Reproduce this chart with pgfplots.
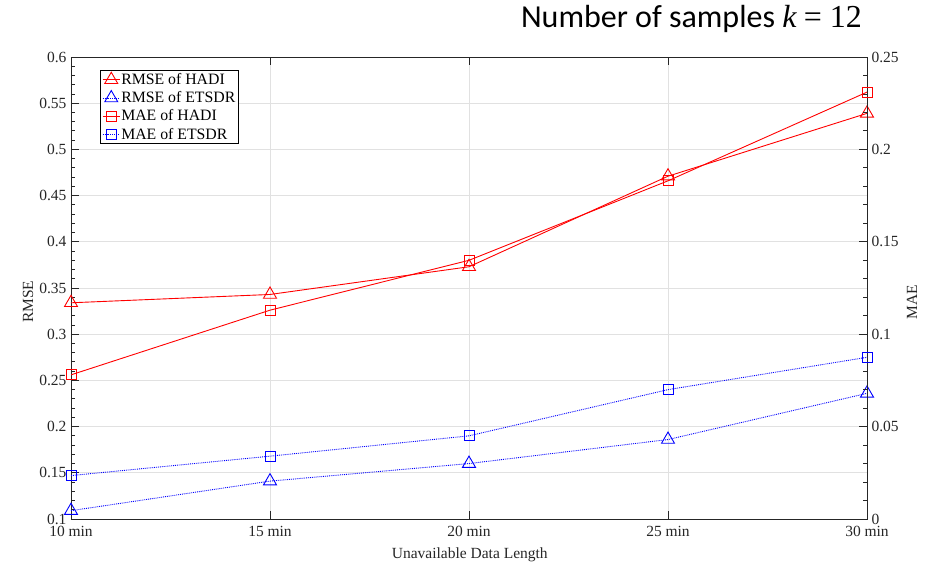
\documentclass[border=0pt]{standalone}
\usepackage{fontspec}
\setmainfont{Liberation Serif}
\newfontfamily\titlefont{Carlito}
\newfontfamily\titlemath{Liberation Serif}
\usepackage{pgfplots}
\pgfplotsset{compat=1.18}

\definecolor{axgray}{RGB}{38,38,38}
\definecolor{gridgray}{RGB}{225,225,225}
\definecolor{hadired}{RGB}{255,0,0}
\definecolor{etsdrblue}{RGB}{0,0,255}

\pgfplotsset{
  common/.style={
    scale only axis,
    width=796pt, height=462pt,
    xmin=10, xmax=30,
    xtick={10,15,20,25,30},
    xticklabels={10 min,15 min,20 min,25 min,30 min},
    /pgf/number format/assume math mode=true,
    tick label style={font=\fontsize{15.5}{18}\selectfont, text=axgray},
    label style={font=\fontsize{15.5}{18}\selectfont, text=axgray},
    axis line style={axgray, line width=0.9pt},
    major tick length=8pt, minor tick length=4pt,
    every tick/.style={axgray, line width=0.9pt},
    tick align=inside,
    minor y tick num=4,
  },
  hadi/.style={color=hadired, line width=0.9pt},
  etsdr/.style={color=etsdrblue, densely dotted, line width=0.9pt},
}

\begin{document}
\begin{tikzpicture}
% left axis: RMSE
\begin{axis}[
  common,
  ymin=0.1, ymax=0.6,
  ytick={0.1,0.15,0.2,0.25,0.3,0.35,0.4,0.45,0.5,0.55,0.6},
  yticklabels={0.1,0.15,0.2,0.25,0.3,0.35,0.4,0.45,0.5,0.55,0.6},
  xtick pos=both, ytick pos=left,
  grid=major,
  major grid style={gridgray, line width=0.8pt},
  xticklabel style={yshift=-4pt},
  yticklabel style={xshift=-1pt},
  ylabel={RMSE},
  ylabel style={at={(axis description cs:-0.054,0.47)}, anchor=center},
  xlabel={Unavailable Data Length},
  xlabel style={at={(axis description cs:0.501,-0.077)}, anchor=center},
  legend style={at={(0.0364,0.972)}, anchor=north west,
    font=\fontsize{15.8}{18}\selectfont, draw=black, line width=0.6pt,
    inner sep=2pt, row sep=3.5pt,
    nodes={inner sep=1pt}},
  legend cell align=left,
  legend image post style={line width=0.9pt},
]
\addplot[hadi, mark=triangle, mark size=7.5pt,
  mark options={solid, draw=hadired, line width=0.9pt}]
  coordinates {(10,0.334) (15,0.343) (20,0.373) (25,0.471) (30,0.539)};
\addlegendentry{RMSE of HADI}
\addplot[etsdr, mark=triangle, mark size=7.5pt,
  mark options={solid, draw=etsdrblue, line width=0.9pt}]
  coordinates {(10,0.109) (15,0.141) (20,0.160) (25,0.186) (30,0.236)};
\addlegendentry{RMSE of ETSDR}
\addlegendimage{hadi, mark=square, mark size=5pt,
  mark options={solid, draw=hadired}}
\addlegendentry{MAE of HADI}
\addlegendimage{etsdr, mark=square, mark size=5pt,
  mark options={solid, draw=etsdrblue}}
\addlegendentry{MAE of ETSDR}
\end{axis}
% right axis: MAE
\begin{axis}[
  common,
  ymin=0, ymax=0.25,
  ytick={0,0.05,0.1,0.15,0.2,0.25},
  yticklabels={0,0.05,0.1,0.15,0.2,0.25},
  axis x line=none,
  axis y line*=right,
  ytick pos=right,
  yticklabel style={xshift=1pt},
  ylabel={MAE},
  ylabel style={at={(axis description cs:1.0565,0.47)}, anchor=center, rotate=0},
]
\addplot[hadi, mark=square, mark size=5pt,
  mark options={solid, draw=hadired, line width=0.9pt}]
  coordinates {(10,0.078) (15,0.113) (20,0.140) (25,0.183) (30,0.231)};
\addplot[etsdr, mark=square, mark size=5pt,
  mark options={solid, draw=etsdrblue, line width=0.9pt}]
  coordinates {(10,0.0235) (15,0.034) (20,0.045) (25,0.070) (30,0.0875)};
\end{axis}
\node[anchor=base east, font=\titlefont\fontsize{32}{36}\selectfont, inner sep=0pt]
  at (791pt,491pt) {Number of samples {\titlemath\itshape k} {\titlemath= 12}};
\pgfresetboundingbox
\path[use as bounding box] (-71pt,-44pt) rectangle (857pt,519pt);
\end{tikzpicture}
\end{document}
